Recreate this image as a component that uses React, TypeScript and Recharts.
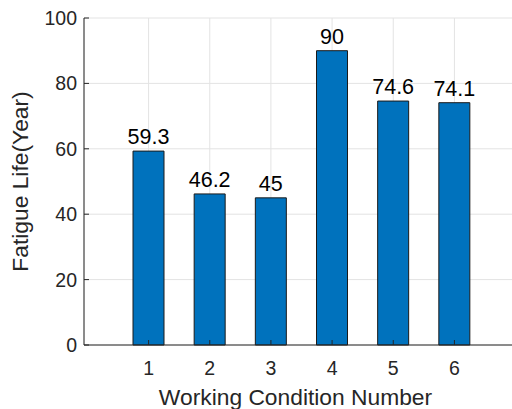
import React from 'react';
import { BarChart, Bar, XAxis, YAxis, CartesianGrid, LabelList } from 'recharts';

const conditions = ['1', '2', '3', '4', '5', '6'];
const fatigueLife = [59.3, 46.2, 45, 90, 74.6, 74.1];
const yTicks = [0, 20, 40, 60, 80, 100];

const data = conditions.map((c, i) => ({ cond: c, life: fatigueLife[i] }));

const AXIS = '#262626';
const FONT = 'Arial, "Liberation Sans", Helvetica, sans-serif';

const BottomTick = (props: any) => {
  const { x, y, payload } = props;
  return (
    <g>
      <line x1={x} x2={x} y1={y} y2={y - 5} stroke={AXIS} strokeWidth={1} />
      <text x={x} y={y + 29.5} textAnchor="middle" fill={AXIS} fontSize={19.5} fontFamily={FONT}>
        {payload.value}
      </text>
    </g>
  );
};

const TopTick = (props: any) => {
  const { x, y } = props;
  return <line x1={x} x2={x} y1={y} y2={y + 5} stroke={AXIS} strokeWidth={1} />;
};

const LeftTick = (props: any) => {
  const { x, y, payload } = props;
  return (
    <g>
      <line x1={x} x2={x + 5} y1={y} y2={y} stroke={AXIS} strokeWidth={1} />
      <text x={x - 7} y={y + 7} textAnchor="end" fill={AXIS} fontSize={19.5} fontFamily={FONT}>
        {payload.value}
      </text>
    </g>
  );
};

export default function App() {
  return (
    <div style={{ position: 'absolute', left: 0, top: 0, width: 512, height: 409, overflow: 'hidden', background: '#fff' }}>
      <BarChart
        width={540}
        height={409}
        data={data}
        margin={{ top: 18, right: 0, bottom: 24, left: 0 }}
      >
        <CartesianGrid stroke="#e3e3e3" strokeWidth={1} xAxisId="bottom" />
        <XAxis
          xAxisId="bottom"
          dataKey="cond"
          height={40}
          padding={{ left: 34, right: 55 }}
          tickLine={false}
          tickSize={0}
          tickMargin={0}
          axisLine={{ stroke: AXIS, strokeWidth: 1 }}
          tick={<BottomTick />}
          interval={0}
          label={{
            value: 'Working Condition Number',
            position: 'insideBottom',
            offset: -20,
            dx: -16.5,
            fill: AXIS,
            fontSize: 22.8,
            fontFamily: FONT,
          }}
        />
        <XAxis
          xAxisId="top"
          orientation="top"
          dataKey="cond"
          height={0}
          padding={{ left: 34, right: 55 }}
          tickLine={false}
          tickSize={0}
          tickMargin={0}
          axisLine={{ stroke: AXIS, strokeWidth: 1 }}
          tick={<TopTick />}
          interval={0}
        />
        <YAxis
          width={84}
          domain={[0, 100]}
          ticks={yTicks}
          type="number"
          tickLine={false}
          tickSize={0}
          tickMargin={0}
          axisLine={{ stroke: AXIS, strokeWidth: 1 }}
          tick={<LeftTick />}
          interval={0}
          label={{
            value: 'Fatigue Life(Year)',
            angle: -90,
            position: 'insideLeft',
            offset: 20,
            fill: AXIS,
            fontSize: 22.8,
            fontFamily: FONT,
            style: { textAnchor: 'middle' },
          }}
        />
        <Bar
          xAxisId="bottom"
          dataKey="life"
          barSize={31}
          fill="#0072BD"
          stroke="#1a1a1a"
          strokeWidth={1}
          isAnimationActive={false}
        >
          <LabelList
            dataKey="life"
            position="top"
            offset={7}
            fill="#000"
            fontSize={21.5}
            fontFamily={FONT}
          />
        </Bar>
      </BarChart>
    </div>
  );
}
